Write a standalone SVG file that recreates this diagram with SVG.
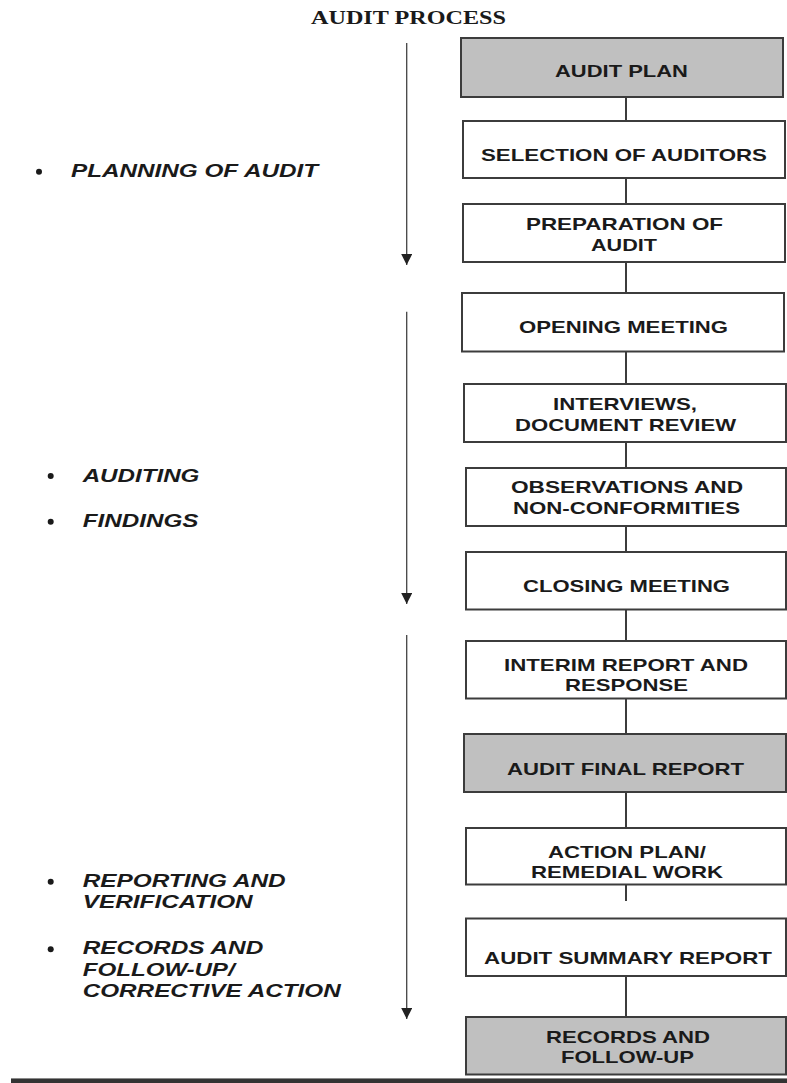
<svg xmlns="http://www.w3.org/2000/svg" width="787" height="1083" viewBox="0 0 787 1083">
<style>
.box{fill:#ffffff;stroke:#3c3c3c;stroke-width:2}
.gray{fill:#c0c0c0}
.t{font-family:"Liberation Sans",Arial,sans-serif;font-weight:bold;font-size:17px;fill:#1a1a1a}
.lab{font-family:"Liberation Sans",Arial,sans-serif;font-weight:bold;font-style:italic;font-size:18px;fill:#1a1a1a}
.title{font-family:"Liberation Serif","Times New Roman",serif;font-weight:bold;font-size:18px;fill:#1a1a1a}
.conn{stroke:#3c3c3c;stroke-width:2;fill:none}
.flow{stroke:#444;stroke-width:1.3;fill:none}
.dot{fill:#1a1a1a}
</style>
<defs>
<marker id="ah" viewBox="0 0 10 10" refX="10" refY="5" markerWidth="11" markerHeight="11" markerUnits="userSpaceOnUse" orient="auto">
<path d="M0,0 L10,5 L0,10 z" fill="#222"/>
</marker>
</defs>
<rect width="787" height="1083" fill="#ffffff"/>
<text class="title" x="311" y="24" textLength="195" lengthAdjust="spacingAndGlyphs">AUDIT PROCESS</text>

<g id="connectors">
<line class="conn" x1="626" y1="97" x2="626" y2="121"/>
<line class="conn" x1="626" y1="178" x2="626" y2="204"/>
<line class="conn" x1="626" y1="262" x2="626" y2="293"/>
<line class="conn" x1="626" y1="351" x2="626" y2="384"/>
<line class="conn" x1="626" y1="442" x2="626" y2="468"/>
<line class="conn" x1="626" y1="526" x2="626" y2="552"/>
<line class="conn" x1="626" y1="609" x2="626" y2="641"/>
<line class="conn" x1="626" y1="698" x2="626" y2="734"/>
<line class="conn" x1="626" y1="792" x2="626" y2="828"/>
<line class="conn" x1="626" y1="884" x2="626" y2="901"/>
<line class="conn" x1="626" y1="976" x2="626" y2="1017"/>
<line class="flow" x1="406.7" y1="43" x2="406.7" y2="265" marker-end="url(#ah)"/>
<line class="flow" x1="406.7" y1="311.7" x2="406.7" y2="604" marker-end="url(#ah)"/>
<line class="flow" x1="406.7" y1="635" x2="406.7" y2="1019" marker-end="url(#ah)"/>
</g>

<g id="n-plan"><rect class="box gray" x="461" y="38" width="322" height="59"/><text class="t" x="555" y="77" textLength="133" lengthAdjust="spacingAndGlyphs">AUDIT PLAN</text></g>
<g id="n-selection"><rect class="box" x="463" y="121" width="322" height="57"/><text class="t" x="481" y="161" textLength="286" lengthAdjust="spacingAndGlyphs">SELECTION OF AUDITORS</text></g>
<g id="n-preparation"><rect class="box" x="463" y="204" width="322" height="58"/><text class="t" x="526" y="230" textLength="197" lengthAdjust="spacingAndGlyphs">PREPARATION OF</text><text class="t" x="591" y="250.7" textLength="66" lengthAdjust="spacingAndGlyphs">AUDIT</text></g>
<g id="n-opening"><rect class="box" x="462" y="293" width="322" height="58.5"/><text class="t" x="519" y="333" textLength="209" lengthAdjust="spacingAndGlyphs">OPENING MEETING</text></g>
<g id="n-interviews"><rect class="box" x="464" y="384" width="322" height="58"/><text class="t" x="553" y="410" textLength="144" lengthAdjust="spacingAndGlyphs">INTERVIEWS,</text><text class="t" x="515" y="430.7" textLength="221" lengthAdjust="spacingAndGlyphs">DOCUMENT REVIEW</text></g>
<g id="n-observations"><rect class="box" x="466" y="468" width="320" height="58"/><text class="t" x="511" y="493.3" textLength="232" lengthAdjust="spacingAndGlyphs">OBSERVATIONS AND</text><text class="t" x="513" y="514" textLength="227" lengthAdjust="spacingAndGlyphs">NON-CONFORMITIES</text></g>
<g id="n-closing"><rect class="box" x="466" y="552" width="320" height="57.5"/><text class="t" x="523" y="592.3" textLength="207" lengthAdjust="spacingAndGlyphs">CLOSING MEETING</text></g>
<g id="n-interim"><rect class="box" x="466" y="641" width="320" height="57.5"/><text class="t" x="504" y="671" textLength="244" lengthAdjust="spacingAndGlyphs">INTERIM REPORT AND</text><text class="t" x="565" y="691" textLength="123" lengthAdjust="spacingAndGlyphs">RESPONSE</text></g>
<g id="n-final"><rect class="box gray" x="464" y="734" width="322" height="58"/><text class="t" x="507" y="775" textLength="237" lengthAdjust="spacingAndGlyphs">AUDIT FINAL REPORT</text></g>
<g id="n-action"><rect class="box" x="466" y="828" width="320" height="56.5"/><text class="t" x="548" y="857.7" textLength="158" lengthAdjust="spacingAndGlyphs">ACTION PLAN/</text><text class="t" x="531" y="878.3" textLength="192" lengthAdjust="spacingAndGlyphs">REMEDIAL WORK</text></g>
<g id="n-summary"><rect class="box" x="466" y="918.5" width="320" height="57.5"/><text class="t" x="484" y="964.3" textLength="288" lengthAdjust="spacingAndGlyphs">AUDIT SUMMARY REPORT</text></g>
<g id="n-records"><rect class="box gray" x="466" y="1017" width="320" height="57.5"/><text class="t" x="546" y="1042.7" textLength="164" lengthAdjust="spacingAndGlyphs">RECORDS AND</text><text class="t" x="561" y="1062.7" textLength="133" lengthAdjust="spacingAndGlyphs">FOLLOW-UP</text></g>

<g id="labels">
<circle class="dot" cx="39" cy="171.7" r="3"/>
<text class="lab" x="71" y="176.7" textLength="247" lengthAdjust="spacingAndGlyphs">PLANNING OF AUDIT</text>
<circle class="dot" cx="50.7" cy="476" r="3"/>
<text class="lab" x="82.7" y="482.3" textLength="116.7" lengthAdjust="spacingAndGlyphs">AUDITING</text>
<circle class="dot" cx="50.7" cy="521.7" r="3"/>
<text class="lab" x="82.7" y="527.3" textLength="115.7" lengthAdjust="spacingAndGlyphs">FINDINGS</text>
<circle class="dot" cx="50.7" cy="881.7" r="3"/>
<text class="lab" x="82.7" y="886.7" textLength="203" lengthAdjust="spacingAndGlyphs">REPORTING AND</text>
<text class="lab" x="82.7" y="908.3" textLength="170" lengthAdjust="spacingAndGlyphs">VERIFICATION</text>
<circle class="dot" cx="50.7" cy="949.3" r="3"/>
<text class="lab" x="82.7" y="954" textLength="180.6" lengthAdjust="spacingAndGlyphs">RECORDS AND</text>
<text class="lab" x="82.7" y="976" textLength="152" lengthAdjust="spacingAndGlyphs">FOLLOW-UP/</text>
<text class="lab" x="82.7" y="997.3" textLength="258" lengthAdjust="spacingAndGlyphs">CORRECTIVE ACTION</text>
</g>

<rect x="11" y="1078" width="776" height="5" fill="#333333"/>
<rect x="11" y="1078" width="776" height="1" fill="#8a8a8a"/>
</svg>
